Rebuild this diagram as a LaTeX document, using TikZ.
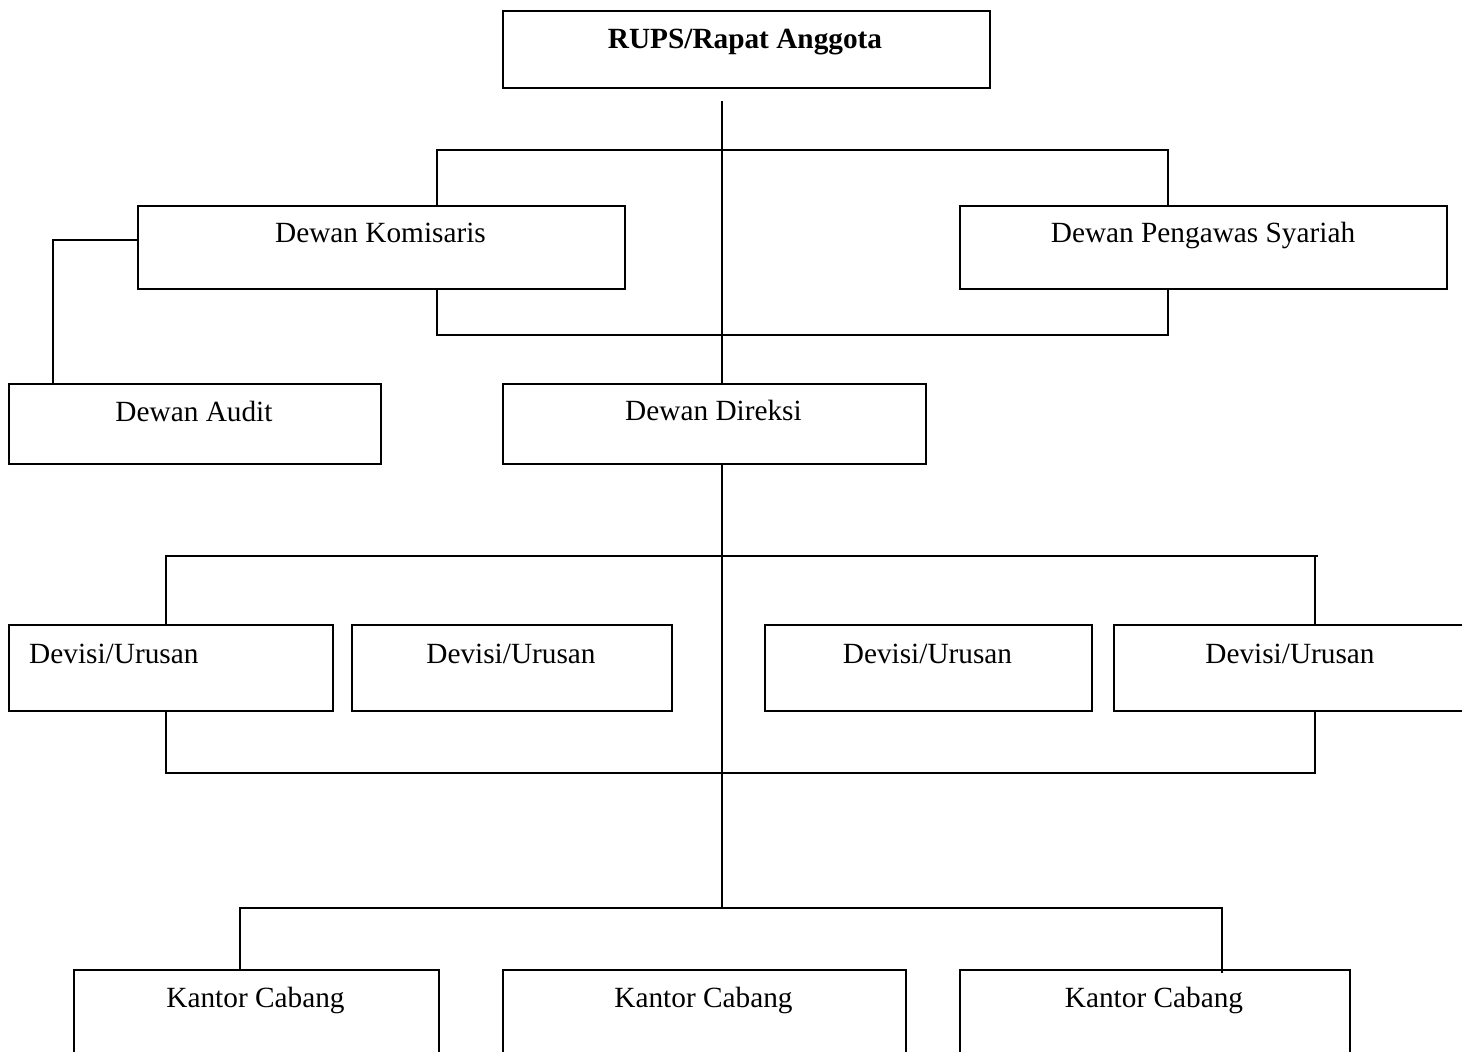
\documentclass[tikz,border=0pt]{standalone}
\usepackage{fontspec}
\setmainfont{Liberation Serif}
\begin{document}
\begin{tikzpicture}[x=1pt,y=-1pt,
  box/.style={draw=black,line width=2.3pt,rectangle,inner sep=0pt,anchor=north west},
  conn/.style={draw=black,line width=2pt},
  lbl/.style={anchor=base,inner sep=0pt,font=\fontsize{29.3}{35}\selectfont}]
\clip (0,0) rectangle (1462,1052);
\fill[white] (0,0) rectangle (1462,1052);
% boxes
\node[box,minimum width=487pt,minimum height=77pt] (rups) at (502,10) {};
\node[box,minimum width=487pt,minimum height=83pt] (komis) at (137,205) {};
\node[box,minimum width=487pt,minimum height=83pt] (pengawas) at (959,205) {};
\node[box,minimum width=372pt,minimum height=80pt] (audit) at (8,383) {};
\node[box,minimum width=423pt,minimum height=80pt] (direksi) at (502,383) {};
\node[box,minimum width=324pt,minimum height=86pt] (dev1) at (8,624) {};
\node[box,minimum width=320pt,minimum height=86pt] (dev2) at (351,624) {};
\node[box,minimum width=327pt,minimum height=86pt] (dev3) at (764,624) {};
\node[box,minimum width=354pt,minimum height=86pt] (dev4) at (1113,624) {};
\node[box,minimum width=365pt,minimum height=130pt] (kc1) at (73,969) {};
\node[box,minimum width=403pt,minimum height=130pt] (kc2) at (502,969) {};
\node[box,minimum width=390pt,minimum height=130pt] (kc3) at (959,969) {};
% labels
\node[lbl,font=\fontsize{29.3}{35}\selectfont\bfseries] (trups) at (745,48) {RUPS/Rapat Anggota};
\node[lbl] (tkomis) at (380.5,242) {Dewan Komisaris};
\node[lbl] (tpeng) at (1203,242) {Dewan Pengawas Syariah};
\node[lbl] (taudit) at (194,421) {Dewan Audit};
\node[lbl] (tdir) at (713.5,420) {Dewan Direksi};
\node[lbl,anchor=base west] (tdev1) at (29,663) {Devisi/Urusan};
\node[lbl] (tdev2) at (511,663) {Devisi/Urusan};
\node[lbl] (tdev3) at (927.5,663) {Devisi/Urusan};
\node[lbl] (tdev4) at (1290,663) {Devisi/Urusan};
\node[lbl] (tkc1) at (255.5,1007) {Kantor Cabang};
\node[lbl] (tkc2) at (703.5,1007) {Kantor Cabang};
\node[lbl] (tkc3) at (1154,1007) {Kantor Cabang};
% connector coordinates
\coordinate (c1) at (722,101);
\coordinate (h1l) at (437,150);
\coordinate (h1r) at (1168,150);
\coordinate (h2l) at (437,335);
\coordinate (h2r) at (1168,335);
\coordinate (a1) at (53,240);
\coordinate (d1) at (166,556);
\coordinate (d2) at (1315,556);
\coordinate (e1) at (166,773);
\coordinate (e2) at (1315,773);
\coordinate (k1) at (240,908);
\coordinate (k2) at (1222,908);
% connectors
\draw[conn] (c1) -- (c1 |- direksi.north);
\draw[conn] (h1l |- komis.north) -- (h1l) -- (h1r) -- (h1r |- pengawas.north);
\draw[conn] (h2l |- komis.south) -- (h2l) -- (h2r) -- (h2r |- pengawas.south);
\draw[conn] (a1 -| komis.west) -- (a1) -- (a1 |- audit.north);
\draw[conn] (c1 |- direksi.south) -- (c1 |- k1);
\draw[conn] (d1 |- dev1.north) -- (d1) -- ([xshift=3pt]d2);
\draw[conn] (d2) -- (d2 |- dev4.north);
\draw[conn] (e1 |- dev1.south) -- (e1) -- (e2) -- (e2 |- dev4.south);
\draw[conn] (k1 |- kc1.north) -- (k1) -- (k2) -- ([yshift=-4pt]k2 |- kc3.north);
\end{tikzpicture}
\end{document}
